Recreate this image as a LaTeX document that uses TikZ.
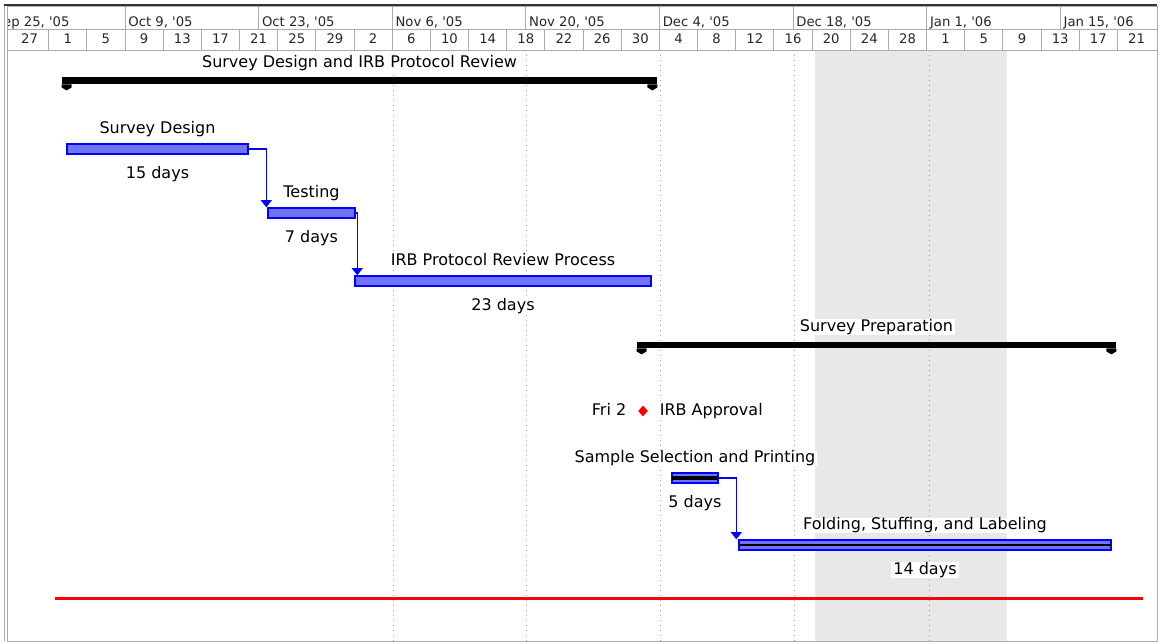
\documentclass[tikz,border=0pt]{standalone}
\usepackage{fontspec}
\setmainfont{DejaVu Sans}
\usetikzlibrary{positioning,fit,shapes.geometric,arrows.meta}

\tikzset{
  taskbar/.style={draw=blue, line width=0.7pt, fill={rgb,255:red,115;green,115;blue,250}, inner sep=0pt},
  sumbar/.style={fill=black, inner sep=0pt},
  tasktext/.style={font=\fontsize{8}{9}\selectfont, inner xsep=1pt, inner ysep=0pt, text height=6pt, text depth=1.7pt, fill=white},
  hdrtext/.style={font=\fontsize{6.6}{7.5}\selectfont, inner sep=0pt, anchor=base, text=black!85},
  hdrline/.style={gray!65, line width=0.5pt},
  gridline/.style={gray!75, dotted, line width=0.5pt},
  link/.style={draw=blue, line width=0.7pt, -{Triangle[width=5.5pt,length=3.6pt]}},
  milestone/.style={diamond, fill=red, inner sep=0pt, minimum width=5pt, minimum height=5.5pt}
}

\begin{document}
\begin{tikzpicture}[x=0.5pt, y=-0.5pt]
        \useasboundingbox (0,0) rectangle (1160,643);

        % nonworking time and grid
        \fill[black!9] (815,50) rectangle (1007,641);
        \foreach \gx in {393,526,660,794,929}
            \draw[gridline] (\gx,50) -- (\gx,641);

        % timescale
        \begin{scope}
            \clip (7,6) rectangle (1157,50);
            \foreach \wk [count=\k from 0] in {{Sep 25, \textquotesingle 05},{Oct 9, \textquotesingle 05},{Oct 23, \textquotesingle 05},{Nov 6, \textquotesingle 05},{Nov 20, \textquotesingle 05},{Dec 4, \textquotesingle 05},{Dec 18, \textquotesingle 05},{Jan 1, \textquotesingle 06},{Jan 15, \textquotesingle 06}} {
                \node[hdrtext, anchor=base west] (week\k) at ({-8.6+133.6*\k+3},26) {\wk};
                \draw[hdrline] ({-8.6+133.6*\k},6) -- ({-8.6+133.6*\k},29);
            }
            \foreach \d [count=\k from 0] in {27,1,5,9,13,17,21,25,29,2,6,10,14,18,22,26,30,4,8,12,16,20,24,28,1,5,9,13,17,21} {
                \node[hdrtext] (day\k) at ({10.5+38.17*\k+19.1},43) {\d};
            }
            \foreach \k in {1,...,29}
                \draw[hdrline] ({10.5+38.17*\k},29) -- ({10.5+38.17*\k},50);
        \end{scope}
        \draw[hdrline] (7,29) -- (1157,29);
        \draw[hdrline] (7,50) -- (1157,50);

        % frame
        \draw[hdrline] (7,6) rectangle (1157,641);
        \draw[hdrline] (4,6) -- (4,641);
        \draw[black!80, line width=1.1pt] (4,5) -- (1157,5);

        % summary tasks
        \node[sumbar, fit={(62,77) (657,84)}] (sumdesign) {};
        \fill (sumdesign.south west) -- ++(0,3) -- ++(5,3) -- ++(5,-3) -- ++(0,-3) -- cycle;
        \fill (sumdesign.south east) -- ++(0,3) -- ++(-5,3) -- ++(-5,-3) -- ++(0,-3) -- cycle;
        \node[tasktext, above=2.6pt of sumdesign] (sumdesigntext) {Survey Design and IRB Protocol Review};

        \node[sumbar, fit={(637,342) (1116,348)}] (sumprep) {};
        \fill (sumprep.south west) -- ++(0,3) -- ++(5,3) -- ++(5,-3) -- ++(0,-3) -- cycle;
        \fill (sumprep.south east) -- ++(0,3) -- ++(-5,3) -- ++(-5,-3) -- ++(0,-3) -- cycle;
        \node[tasktext, above=3.3pt of sumprep] (sumpreptext) {Survey Preparation};

        % tasks
        \node[taskbar, fit={(67,144) (248,154)}] (design) {};
        \node[tasktext, above=2.8pt of design] (designtext) {Survey Design};
        \node[tasktext, below=5.5pt of design] (designdur) {15 days};

        \node[taskbar, fit={(268,208) (355,218)}] (testing) {};
        \node[tasktext, above=2.8pt of testing] (testingtext) {Testing};
        \node[tasktext, below=5.5pt of testing] (testingdur) {7 days};

        \node[taskbar, fit={(355,276) (651,286)}] (review) {};
        \node[tasktext, above=2.8pt of review] (reviewtext) {IRB Protocol Review Process};
        \node[tasktext, below=5.5pt of review] (reviewdur) {23 days};

        \node[milestone] (approval) at (643,411) {};
        \node[tasktext, left=4.5pt of approval] (approvaldate) {Fri 2};
        \node[tasktext, right=4.5pt of approval] (approvaltext) {IRB Approval};

        \node[taskbar, fit={(672,473) (718,483)}] (sample) {};
        \draw[black, line width=2.4pt, shorten <=0.4pt, shorten >=0.4pt] (sample.west) -- (sample.east);
        \node[tasktext, above=2.8pt of sample] (sampletext) {Sample Selection and Printing};
        \node[tasktext, below=5.5pt of sample] (sampledur) {5 days};

        \node[taskbar, fit={(739,540) (1111,550)}] (folding) {};
        \draw[black, line width=1.4pt, shorten <=0.4pt, shorten >=0.4pt] (folding.west) -- (folding.east);
        \node[tasktext, above=2.8pt of folding] (foldingtext) {Folding, Stuffing, and Labeling};
        \node[tasktext, below=5.5pt of folding] (foldingdur) {14 days};

        % links
        \draw[link] (design.east) -| ([xshift=-0.5pt]testing.north west);
        \draw[link] (testing.east) -| ([xshift=1.5pt]review.north west);
        \draw[link] (sample.east) -| ([xshift=-1pt]folding.north west);

        % status date
        \draw[red, line width=1.5pt] (55,598) -- (1143,598);
\end{tikzpicture}
\end{document}
